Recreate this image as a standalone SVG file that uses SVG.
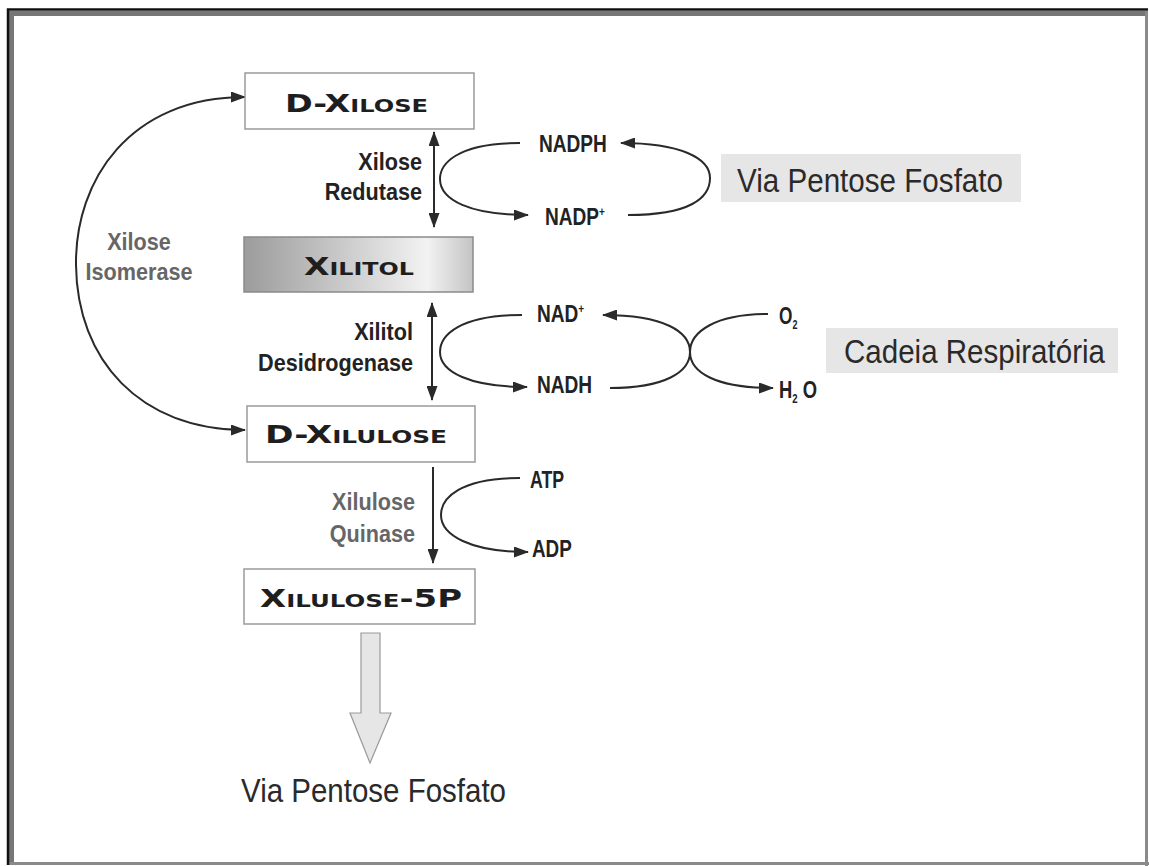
<svg xmlns="http://www.w3.org/2000/svg" width="1149" height="866" viewBox="0 0 1149 866">
<defs>
<style>
.box{fill:#fff;stroke:#9a9a9a;stroke-width:1.5}
.bt{font-family:"DejaVu Sans",sans-serif;font-weight:bold;font-size:25px;font-variant:small-caps;fill:#1e1e1e}
.enz{font-family:"Liberation Sans",Arial,sans-serif;font-weight:bold;font-size:23px;fill:#222}
.enzg{font-family:"Liberation Sans",Arial,sans-serif;font-weight:bold;font-size:23px;fill:#666}
.sm{font-family:"Liberation Sans",Arial,sans-serif;font-weight:bold;font-size:23px;fill:#222}
.big{font-family:"Liberation Sans",Arial,sans-serif;font-size:34px;fill:#2a2a2a}
.ln{fill:none;stroke:#2a2a2a;stroke-width:2}
.lbl{fill:#e6e6e6}
</style>
<linearGradient id="gx" x1="0" y1="0" x2="1" y2="0">
<stop offset="0" stop-color="#9c9c9c"/>
<stop offset="0.8" stop-color="#f2f2f2"/>
<stop offset="1" stop-color="#c4c4c4"/>
</linearGradient>
<marker id="ah" viewBox="0 0 15 11" refX="14" refY="5.5" markerWidth="15" markerHeight="11" markerUnits="userSpaceOnUse" orient="auto-start-reverse">
<path d="M0,0 L15,5.5 L0,11 Z" fill="#2a2a2a"/>
</marker>
</defs>

<g id="frame">
<rect x="8" y="10" width="1140" height="855" fill="#fff"/>
<rect x="9" y="11" width="1138" height="5" fill="#777"/>
<rect x="9" y="11" width="5" height="854" fill="#777"/>
<rect x="1145" y="11" width="3" height="855" fill="#8a8a8a"/>
<rect x="9" y="862" width="1140" height="3" fill="#8a8a8a"/>
<path d="M8,865 V9.5 H1148" fill="none" stroke="#111" stroke-width="2.5"/>
</g>

<g id="connectors">
<line class="ln" x1="434" y1="132" x2="434" y2="227" marker-start="url(#ah)" marker-end="url(#ah)"/>
<line class="ln" x1="432" y1="303" x2="432" y2="400" marker-start="url(#ah)" marker-end="url(#ah)"/>
<line class="ln" x1="433" y1="467" x2="433" y2="563" marker-end="url(#ah)"/>
<path class="ln" d="M245,97 C130,97 75,180 76,265 C77,360 140,430 245,430" marker-start="url(#ah)" marker-end="url(#ah)"/>
<path class="ln" d="M520,143 C455,143 440,165 440,179 C440,200 470,215 528,215" marker-end="url(#ah)"/>
<path class="ln" d="M628,215 C690,215 710,198 710,178 C710,158 680,143 621,143" marker-end="url(#ah)"/>
<path class="ln" d="M522,315 C460,315 440,335 440,352 C440,372 470,387 527,387" marker-end="url(#ah)"/>
<path class="ln" d="M610,388 C665,388 690,372 690,352 C690,332 665,315 603,315" marker-end="url(#ah)"/>
<path class="ln" d="M768,314 C715,314 690,332 690,352 C690,372 715,388 773,388" marker-end="url(#ah)"/>
<path class="ln" d="M520,478 C460,478 441,498 441,515 C441,535 470,552 528,552" marker-end="url(#ah)"/>
<path d="M361,633 H380 V713 H391 L370,763 L350,713 H361 Z" fill="#e6e6e6" stroke="#9a9a9a" stroke-width="1.2"/>
</g>

<g id="dxilose">
<rect class="box" x="245" y="73" width="229" height="56"/>
<text class="bt" x="285" y="112" textLength="143" lengthAdjust="spacingAndGlyphs">D-Xilose</text>
</g>
<g id="xilitol">
<rect x="244" y="237" width="229" height="55" fill="url(#gx)" stroke="#8a8a8a" stroke-width="1.5"/>
<text class="bt" x="304" y="275" textLength="110" lengthAdjust="spacingAndGlyphs">Xilitol</text>
</g>
<g id="dxilulose">
<rect class="box" x="247" y="406" width="228" height="56"/>
<text class="bt" x="265" y="443" textLength="182" lengthAdjust="spacingAndGlyphs">D-Xilulose</text>
</g>
<g id="xilulose5p">
<rect class="box" x="244" y="569" width="231" height="55"/>
<text class="bt" x="260" y="607" textLength="202" lengthAdjust="spacingAndGlyphs">Xilulose-5P</text>
</g>

<g id="enzymes">
<text class="enz" transform="translate(422,170) scale(0.94,1)" text-anchor="end">Xilose</text>
<text class="enz" transform="translate(422,200) scale(0.94,1)" text-anchor="end">Redutase</text>
<text class="enz" transform="translate(413,340) scale(0.94,1)" text-anchor="end">Xilitol</text>
<text class="enz" transform="translate(413,371) scale(0.94,1)" text-anchor="end">Desidrogenase</text>
<text class="enzg" transform="translate(415,510) scale(0.94,1)" text-anchor="end">Xilulose</text>
<text class="enzg" transform="translate(415,542) scale(0.94,1)" text-anchor="end">Quinase</text>
<text class="enzg" transform="translate(139,250) scale(0.94,1)" text-anchor="middle">Xilose</text>
<text class="enzg" transform="translate(139,280) scale(0.94,1)" text-anchor="middle">Isomerase</text>
</g>

<g id="cofactors">
<text class="sm" transform="translate(539,152) scale(0.83,1)">NADPH</text>
<text class="sm" transform="translate(545,225) scale(0.83,1)">NADP<tspan font-size="12" dy="-9">+</tspan></text>
<text class="sm" transform="translate(537,322) scale(0.83,1)">NAD<tspan font-size="12" dy="-9">+</tspan></text>
<text class="sm" transform="translate(537,393) scale(0.83,1)">NADH</text>
<text class="sm" transform="translate(779,324) scale(0.75,1)">O<tspan font-size="12" dy="5">2</tspan></text>
<text class="sm" transform="translate(779,398) scale(0.8,1)">H<tspan font-size="12" dy="5">2</tspan><tspan dy="-5"> O</tspan></text>
<text class="sm" transform="translate(530,488) scale(0.77,1)">ATP</text>
<text class="sm" transform="translate(532,557) scale(0.82,1)">ADP</text>
</g>

<g id="via-label">
<rect class="lbl" x="721" y="154" width="300" height="48"/>
<text class="big" x="737" y="192" textLength="266" lengthAdjust="spacingAndGlyphs">Via Pentose Fosfato</text>
</g>
<g id="cadeia-label">
<rect class="lbl" x="826" y="328" width="292" height="45"/>
<text class="big" x="844" y="363" textLength="261" lengthAdjust="spacingAndGlyphs">Cadeia Respiratória</text>
</g>
<g id="via-bottom">
<text class="big" x="241" y="802" textLength="265" lengthAdjust="spacingAndGlyphs">Via Pentose Fosfato</text>
</g>
</svg>
